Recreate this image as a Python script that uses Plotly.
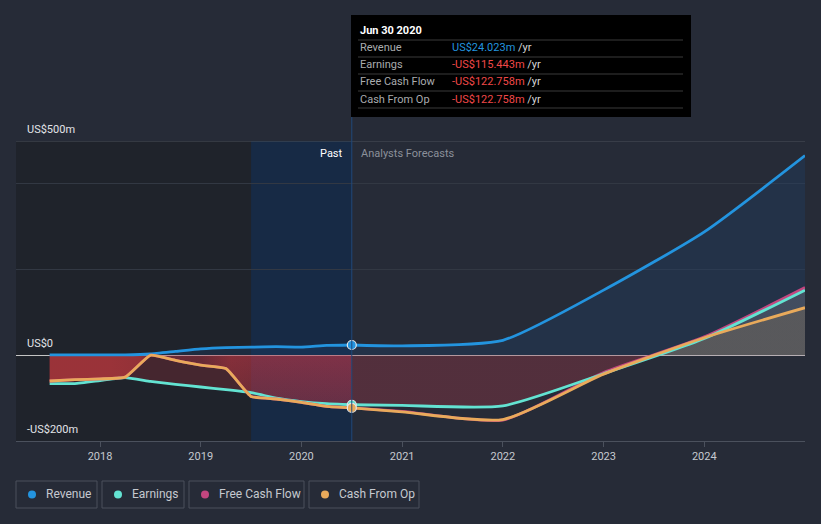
import plotly.graph_objects as go

# ---------------- data (US$ millions, trailing twelve months) ----------------
past_x = [2017.5, 2017.75, 2018.0, 2018.25, 2018.5, 2018.75, 2019.0, 2019.25,
          2019.5, 2019.75, 2020.0, 2020.25, 2020.5]
revenue_past = [1, 1, 1, 1, 3, 9, 15, 18, 19, 20, 19, 23, 24.023]
earnings_past = [-66, -66, -59, -52, -61, -68, -74, -80, -87, -100, -108, -113, -115.443]
fcf_past = [-60, -57, -55, -51, 0, -12, -23, -31, -96, -102, -110, -119, -122.758]
cfo_past = [-60, -57, -55, -51, 0, -12, -23, -31, -96, -102, -110, -119, -122.758]

fc_x = [2020.5, 2021.0, 2022.0, 2023.0, 2024.0, 2025.0]
revenue_fc = [24.023, 22, 35, 152, 288, 466]
earnings_fc = [-115.443, -117, -118, -43, 39, 152]
fcf_fc = [-122.758, -131, -151, -40, 43, 158]
cfo_fc = [-122.758, -132, -150, -44, 41, 111]

year_ticks = [2018, 2019, 2020, 2021, 2022, 2023, 2024]
year_labels = ["2018", "2019", "2020", "2021", "2022", "2023", "2024"]
y_label_vals = [500, 0, -200]
y_label_text = ["US$500m", "US$0", "-US$200m"]
series_names = ["Revenue", "Earnings", "Free Cash Flow", "Cash From Op"]

# ---------------- style ----------------
C_REV = "#2394df"
C_EARN = "#63e3d2"
C_FCF = "#c2467f"
C_CFO = "#e9aa5b"
BG = "#262b37"
FONT = "Roboto"

W, H = 821, 524
ML, MR, MT, MB = 16, 16, 141, 83
X0, X1 = 2017.166, 2025.0
Y0, Y1 = -200, 500
PW, PH = W - ML - MR, H - MT - MB


def fx(px):
    return (px - ML) / PW


def fy(py):
    return (H - MB - py) / PH


def dx(v):
    return (v - X0) / (X1 - X0)


fig = go.Figure()

SM_P, SM_F = 0.4, 0.6

# ---------- fills (past) ----------
fig.add_trace(go.Scatter(x=past_x, y=earnings_past, mode="lines", fill="tozeroy",
                         line=dict(width=0, shape="spline", smoothing=SM_P),
                         fillcolor="rgba(200,50,60,0.23)",
                         hoverinfo="skip", showlegend=False))
cfo_scale = [
    [0.0, "rgba(200,58,62,0.65)"],
    [0.2, "rgba(200,58,62,0.65)"],
    [0.3, "rgba(200,58,62,0.60)"],
    [0.36, "rgba(200,58,62,0.0)"],
    [0.5, "rgba(200,58,62,0.0)"],
    [0.6, "rgba(200,58,62,0.30)"],
    [0.67, "rgba(200,58,70,0.26)"],
    [1.0, "rgba(200,58,80,0.26)"],
]
fig.add_trace(go.Scatter(x=past_x, y=cfo_past, mode="lines", fill="tozeroy",
                         line=dict(width=0, shape="spline", smoothing=SM_P),
                         fillgradient=dict(type="horizontal", colorscale=cfo_scale,
                                           start=past_x[0], stop=past_x[-1]),
                         hoverinfo="skip", showlegend=False))
# vertical glow near zero after the mid-2018 peak
fig.add_trace(go.Scatter(x=past_x[4:], y=cfo_past[4:], mode="lines", fill="tozeroy",
                         line=dict(width=0, shape="spline", smoothing=SM_P),
                         fillgradient=dict(type="vertical", start=-130, stop=0,
                                           colorscale=[[0, "rgba(200,55,75,0)"],
                                                       [1, "rgba(200,55,75,0.28)"]]),
                         hoverinfo="skip", showlegend=False))
fig.add_trace(go.Scatter(x=past_x, y=revenue_past, mode="lines", fill="tozeroy",
                         line=dict(width=0, shape="spline", smoothing=SM_P),
                         fillcolor="rgba(30,70,120,0.28)",
                         hoverinfo="skip", showlegend=False))

# ---------- fills (forecast) ----------
fig.add_trace(go.Scatter(x=fc_x, y=revenue_fc, mode="lines", fill="tozeroy",
                         line=dict(width=0, shape="spline", smoothing=SM_F),
                         fillcolor="rgba(30,70,120,0.28)",
                         hoverinfo="skip", showlegend=False))
fig.add_trace(go.Scatter(x=fc_x, y=earnings_fc, mode="lines", fill="tozeroy",
                         line=dict(width=0, shape="spline", smoothing=SM_F),
                         fillgradient=dict(type="vertical", start=-200, stop=200,
                                           colorscale=[[0, "rgba(165,55,70,0.35)"],
                                                       [0.5, "rgba(165,55,70,0.35)"],
                                                       [0.5, "rgba(140,140,150,0.30)"],
                                                       [1, "rgba(140,140,150,0.30)"]]),
                         hoverinfo="skip", showlegend=False))
fig.add_trace(go.Scatter(x=fc_x, y=cfo_fc, mode="lines", fill="tozeroy",
                         line=dict(width=0, shape="spline", smoothing=SM_F),
                         fillgradient=dict(type="vertical", start=-200, stop=200,
                                           colorscale=[[0, "rgba(0,0,0,0)"],
                                                       [0.5, "rgba(0,0,0,0)"],
                                                       [0.5, "rgba(125,108,85,0.37)"],
                                                       [1, "rgba(125,108,85,0.37)"]]),
                         hoverinfo="skip", showlegend=False))

# ---------- lines ----------
for xs, ys, col, sm in [
    (past_x, revenue_past, C_REV, SM_P), (fc_x, revenue_fc, C_REV, SM_F),
    (past_x, earnings_past, C_EARN, SM_P), (fc_x, fcf_fc, C_FCF, SM_F),
    (past_x, fcf_past, C_FCF, SM_P), (fc_x, earnings_fc, C_EARN, SM_F),
    (past_x, cfo_past, C_CFO, SM_P), (fc_x, cfo_fc, C_CFO, SM_F),
]:
    fig.add_trace(go.Scatter(x=xs, y=ys, mode="lines",
                             line=dict(color=col, width=2.8, shape="spline", smoothing=sm),
                             hoverinfo="skip", showlegend=False))

# ---------- current-point markers ----------
for ys, col in [(earnings_past, C_EARN), (cfo_past, C_CFO), (revenue_past, C_REV)]:
    fig.add_trace(go.Scatter(x=[past_x[-1]], y=[ys[-1]], mode="markers",
                             marker=dict(color=col, size=9, line=dict(color="#e6e6e6", width=1.2)),
                             cliponaxis=False, hoverinfo="skip", showlegend=False))

shapes = []
# past shading
shapes.append(dict(type="rect", xref="x", yref="y", x0=X0, x1=2019.5, y0=Y0, y1=Y1,
                   fillcolor="#1f232b", line=dict(width=0), layer="below"))
shapes.append(dict(type="rect", xref="x", yref="y", x0=2019.5, x1=past_x[-1], y0=Y0, y1=Y1,
                   fillcolor="#172a45", line=dict(width=0), layer="below"))
# top gridline
shapes.append(dict(type="line", xref="paper", yref="y", x0=0, x1=1, y0=500, y1=500,
                   line=dict(color="#4a505b", width=1), layer="above"))
# vertical "now" line
shapes.append(dict(type="line", xref="paper", yref="paper", x0=dx(past_x[-1]), x1=dx(past_x[-1]),
                   y0=0, y1=fy(117), line=dict(color="#20497a", width=1), layer="above"))
# tooltip box
shapes.append(dict(type="rect", xref="paper", yref="paper", x0=fx(351), x1=fx(691),
                   y0=fy(117), y1=fy(15), fillcolor="#000000", line=dict(width=0), layer="above"))
for sy in [40, 57, 74, 91, 108]:
    shapes.append(dict(type="line", xref="paper", yref="paper", x0=fx(358), x1=fx(683),
                       y0=fy(sy), y1=fy(sy), line=dict(color="#3a3a3a", width=1), layer="above"))

annotations = []
# y labels
for v, t in zip(y_label_vals, y_label_text):
    annotations.append(dict(xref="paper", yref="y", x=fx(25), y=v, text=t, showarrow=False,
                            xanchor="left", yanchor="bottom", yshift=3,
                            font=dict(family=FONT, size=11, color="#e2e4e8")))
# Past / forecast labels
annotations.append(dict(xref="x", yref="paper", x=past_x[-1], y=fy(153), text="Past",
                        showarrow=False, xanchor="right", yanchor="middle", xshift=-7,
                        font=dict(family=FONT, size=11, color="#ffffff")))
annotations.append(dict(xref="x", yref="paper", x=past_x[-1], y=fy(153), text="Analysts Forecasts",
                        showarrow=False, xanchor="left", yanchor="middle", xshift=7,
                        font=dict(family=FONT, size=11, color="#8b909a")))

# tooltip text
annotations.append(dict(xref="paper", yref="paper", x=fx(358), y=fy(31), text="<b>Jun 30 2020</b>",
                        showarrow=False, xanchor="left", yanchor="middle",
                        font=dict(family=FONT, size=11, color="#ffffff")))


def fmt(v):
    s = f"US${abs(v):.3f}m"
    return ("-" + s) if v < 0 else s


vals = [revenue_past[-1], earnings_past[-1], fcf_past[-1], cfo_past[-1]]
for i, (name, v) in enumerate(zip(series_names, vals)):
    yy = fy(48 + 17 * i)
    col = C_REV if v >= 0 else "#f04848"
    annotations.append(dict(xref="paper", yref="paper", x=fx(358), y=yy, text=name,
                            showarrow=False, xanchor="left", yanchor="middle",
                            font=dict(family=FONT, size=11, color="#a9abae")))
    annotations.append(dict(xref="paper", yref="paper", x=fx(450), y=yy,
                            text=f"<span style='color:{col}'>{fmt(v)}</span> /yr",
                            showarrow=False, xanchor="left", yanchor="middle",
                            font=dict(family=FONT, size=11, color="#d6d6d6")))

# legend (custom boxes)
leg_cols = [C_REV, C_EARN, C_FCF, C_CFO]
leg_boxes = [(16, 97), (102, 184), (189, 304), (309, 419)]
for name, col, (bx0, bx1) in zip(series_names, leg_cols, leg_boxes):
    shapes.append(dict(type="rect", xref="paper", yref="paper", x0=fx(bx0), x1=fx(bx1),
                       y0=fy(508), y1=fy(481), line=dict(color="#4b515d", width=1),
                       fillcolor="rgba(0,0,0,0)"))
    cx, cy = bx0 + 16, 494.5
    shapes.append(dict(type="circle", xref="paper", yref="paper", x0=fx(cx - 4), x1=fx(cx + 4),
                       y0=fy(cy + 4), y1=fy(cy - 4), fillcolor=col, line=dict(width=0)))
    annotations.append(dict(xref="paper", yref="paper", x=fx(bx0 + 28), y=fy(cy), text=name,
                            showarrow=False, xanchor="left", yanchor="middle",
                            font=dict(family=FONT, size=12, color="#c5c9cf")))

fig.update_layout(
    width=W, height=H,
    margin=dict(l=ML, r=MR, t=MT, b=MB, pad=0),
    paper_bgcolor=BG, plot_bgcolor=BG,
    showlegend=False, hovermode=False,
    font=dict(family=FONT),
    shapes=shapes, annotations=annotations,
    xaxis=dict(range=[X0, X1], tickvals=year_ticks, ticktext=year_labels,
               showgrid=False, zeroline=False, showline=True, linecolor="#4b515d", linewidth=1,
               ticks="outside", ticklen=5, tickcolor="#4b515d",
               tickfont=dict(family=FONT, size=11, color="#c5c9cf"), fixedrange=True),
    yaxis=dict(range=[Y0, Y1], tickvals=[-200, 0, 200, 400], showticklabels=False,
               showgrid=True, gridcolor="#323843", gridwidth=1,
               zeroline=True, zerolinecolor="#c4c4c4", zerolinewidth=1.2, fixedrange=True),
)

fig.write_html("out.html")
